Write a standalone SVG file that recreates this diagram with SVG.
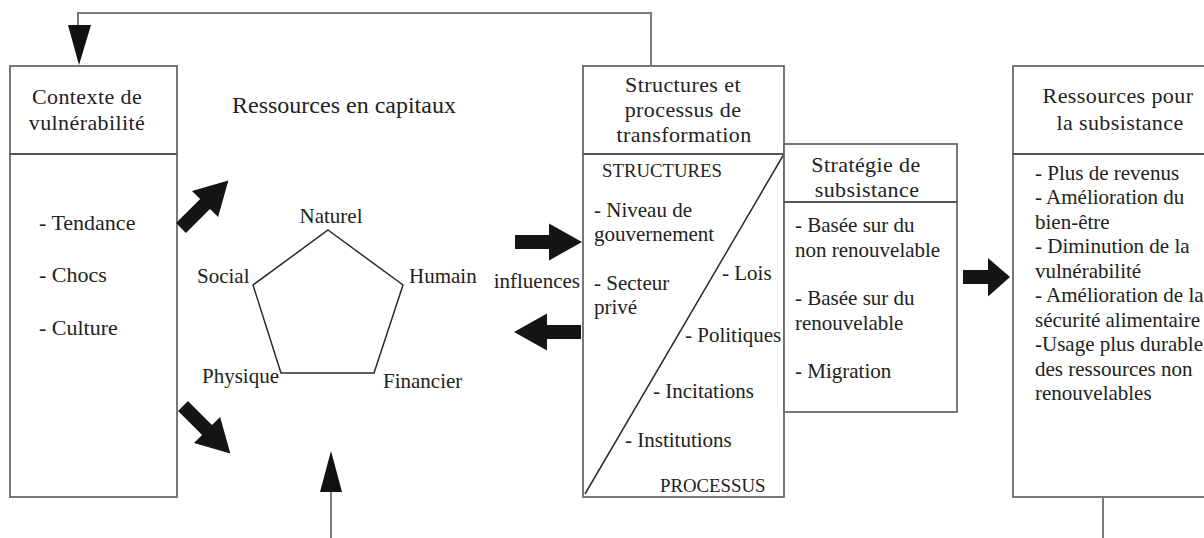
<svg xmlns="http://www.w3.org/2000/svg" width="1204" height="538" viewBox="0 0 1204 538">
  <style>
    .box{fill:#fff;stroke:#6a6a6a;stroke-width:1.8}
    .rule{fill:none;stroke:#555;stroke-width:1.8}
    .thin{fill:none;stroke:#2a2a2a;stroke-width:1.5}
    .wire{fill:none;stroke:#7a7a7a;stroke-width:2}
    .head{fill:#111}
    .fat{fill:#151515}
    text{font-family:"Liberation Serif","Times New Roman",serif;font-size:21px;fill:#222}
    .hd{font-size:22px;text-anchor:middle;letter-spacing:0.4px}
    .title{font-size:24px}
    .caps{font-size:18.8px}
    .mid{text-anchor:middle}
    .end{text-anchor:end}
  </style>
  <defs>
    <!-- thick block arrow pointing right, tail at origin -->
    <path id="blk" d="M0,-7 L34,-7 L34,-18.5 L67,0 L34,18.5 L34,7 L0,7 Z"/>
  </defs>

  <rect width="1204" height="538" fill="#fff"/>

  <!-- vulnerability context -->
  <g id="contexte">
    <rect class="box" x="10" y="66" width="167" height="431"/>
    <line class="rule" x1="10" y1="154" x2="177" y2="154"/>
    <text class="hd" x="87" y="104">Contexte de</text>
    <text class="hd" x="87" y="130">vulnérabilité</text>
    <text x="39" y="230" style="font-size:22px">- Tendance</text>
    <text x="39" y="282" style="font-size:22px">- Chocs</text>
    <text x="39" y="335" style="font-size:22px">- Culture</text>
  </g>

  <!-- capital assets pentagon -->
  <g id="capitaux">
    <text class="title" x="232" y="113">Ressources en capitaux</text>
    <polygon class="thin" points="328,230 403,285 374,373 281,373 253,285"/>
    <text class="mid" x="331" y="223">Naturel</text>
    <text x="197" y="283">Social</text>
    <text x="409" y="283">Humain</text>
    <text x="202" y="383">Physique</text>
    <text x="383" y="388">Financier</text>
  </g>

  <!-- structures and processes -->
  <g id="transformation">
    <rect class="box" x="583" y="66" width="201" height="431"/>
    <line class="rule" x1="583" y1="154" x2="784" y2="154"/>
    <line class="thin" x1="585" y1="494" x2="784" y2="154"/>
    <text class="hd" x="683" y="92">Structures et</text>
    <text class="hd" x="683" y="117">processus de</text>
    <text class="hd" x="684" y="142">transformation</text>
    <text class="caps" x="602" y="177">STRUCTURES</text>
    <text x="594" y="217">- Niveau de</text>
    <text x="594" y="241">gouvernement</text>
    <text x="594" y="290">- Secteur</text>
    <text x="594" y="314">privé</text>
    <text x="722" y="280">- Lois</text>
    <text x="685" y="342">- Politiques</text>
    <text x="653" y="398">- Incitations</text>
    <text x="625" y="447">- Institutions</text>
    <text class="caps" x="660" y="492">PROCESSUS</text>
  </g>

  <!-- livelihood strategies -->
  <g id="strategie">
    <rect class="box" x="784" y="144" width="173" height="268"/>
    <line class="rule" x1="784" y1="202" x2="957" y2="202"/>
    <text class="hd" x="866" y="172">Stratégie de</text>
    <text class="hd" x="867" y="197">subsistance</text>
    <text x="795" y="232">- Basée sur du</text>
    <text x="795" y="257">non renouvelable</text>
    <text x="795" y="305">- Basée sur du</text>
    <text x="795" y="330">renouvelable</text>
    <text x="795" y="378">- Migration</text>
  </g>

  <!-- livelihood outcomes -->
  <g id="resultats">
    <rect class="box" x="1013" y="66" width="230" height="431"/>
    <line class="rule" x1="1013" y1="154" x2="1243" y2="154"/>
    <text class="hd" x="1118" y="103">Ressources pour</text>
    <text class="hd" x="1120" y="130">la subsistance</text>
    <text x="1035" y="180">- Plus de revenus</text>
    <text x="1035" y="204">- Amélioration du</text>
    <text x="1035" y="229">bien-être</text>
    <text x="1035" y="253">- Diminution de la</text>
    <text x="1035" y="278">vulnérabilité</text>
    <text x="1035" y="302">- Amélioration de la</text>
    <text x="1035" y="327">sécurité alimentaire</text>
    <text x="1035" y="351">-Usage plus durable</text>
    <text x="1035" y="376">des ressources non</text>
    <text x="1035" y="400">renouvelables</text>
  </g>

  <!-- connectors -->
  <g id="connectors">
    <!-- feedback loop to the vulnerability context -->
    <polyline class="wire" points="651,66 651,13 78,13 78,30"/>
    <polygon class="head" points="68,25 91,25 79,65"/>
    <!-- incoming line under the pentagon -->
    <line class="wire" x1="331" y1="490" x2="331" y2="538"/>
    <polygon class="head" points="331,451 320,492 342,492"/>
    <!-- line leaving the outcomes box -->
    <line class="wire" x1="1103" y1="497" x2="1103" y2="538"/>
    <!-- block arrows -->
    <use href="#blk" class="fat" transform="translate(181,228) rotate(-45)"/>
    <use href="#blk" class="fat" transform="translate(183,406) rotate(45)"/>
    <use href="#blk" class="fat" transform="translate(515,242)"/>
    <use href="#blk" class="fat" transform="translate(581,332) rotate(180)"/>
    <path class="fat" d="M963,270 L988,270 L988,258 L1010,277 L988,296.5 L988,284 L963,284 Z"/>
    <text class="end" x="580" y="288">influences</text>
  </g>
</svg>
